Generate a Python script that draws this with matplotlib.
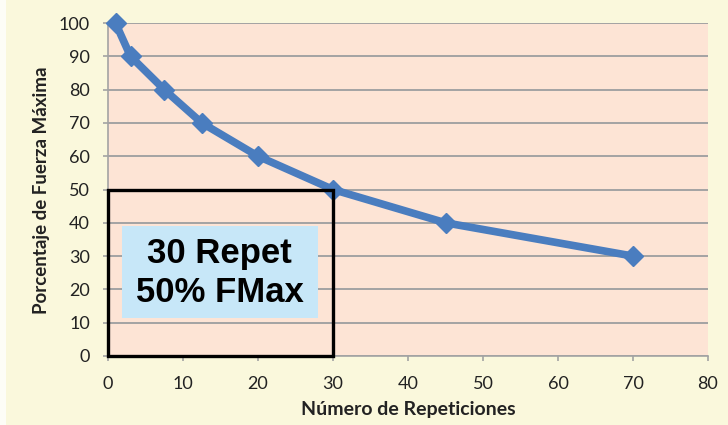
import matplotlib
matplotlib.use("Agg")
import matplotlib.pyplot as plt
from matplotlib.patches import Rectangle

repeticiones = [1, 3, 7.5, 12.5, 20, 30, 45, 70]
porcentaje = [100, 90, 80, 70, 60, 50, 40, 30]
x_ticks = [0, 10, 20, 30, 40, 50, 60, 70, 80]
y_ticks = [0, 10, 20, 30, 40, 50, 60, 70, 80, 90, 100]
box_text = "30 Repet\n50% FMax"

W, H = 728, 425
fig = plt.figure(figsize=(W / 100, H / 100), dpi=100)
fig.patch.set_facecolor("#FAF8DC")
fig.patches.append(Rectangle((0, 0), 6 / W, 1, transform=fig.transFigure,
                             facecolor="#FDFDF6", edgecolor="none", zorder=0))

ax = fig.add_axes([108 / W, 1 - 356 / H, 600 / W, 333 / H])
ax.set_facecolor("#FDE4D5")
ax.set_xlim(0, 80)
ax.set_ylim(0, 100)
ax.set_xticks(x_ticks)
ax.set_yticks(y_ticks)
ax.grid(axis="y", color="#A3A3A3", linewidth=1.4)
ax.set_axisbelow(True)
for s in ["top", "right"]:
    ax.spines[s].set_visible(False)
for s in ["left", "bottom"]:
    ax.spines[s].set_color("#A3A3A3")
    ax.spines[s].set_linewidth(1.2)
ax.tick_params(axis="y", length=3.6, color="#A3A3A3", width=1.2, pad=9.5,
               labelsize=13, labelcolor="#222222")
ax.tick_params(axis="x", length=3.6, color="#A3A3A3", width=1.2, pad=11,
               labelsize=13, labelcolor="#222222")
for lab in ax.get_xticklabels() + ax.get_yticklabels():
    lab.set_family("Lato")

ax.plot(repeticiones, porcentaje, color="#4A7DBF", linewidth=5.5,
        marker="D", markersize=10, solid_joinstyle="round", zorder=4,
        clip_on=False)

ax.add_patch(Rectangle((0, 0), 30, 50, fill=False, edgecolor="black",
                       linewidth=2.4, zorder=5, clip_on=False))
ax.add_patch(Rectangle((1.8, 11.4), 26.2, 27.6, facecolor="#C7E7F8",
                       edgecolor="none", zorder=3))
ax.text(14.9, 25.0, box_text, ha="center", va="center", fontsize=25,
        fontweight="bold", family="Liberation Sans", linespacing=1.22,
        color="black", zorder=6)

fig.text(408 / W, 1 - 410 / H, "Número de Repeticiones", ha="center",
         va="center", fontsize=14, fontweight="bold", family="Lato",
         color="#222222")
fig.text(42 / W, 1 - 190 / H, "Porcentaje de Fuerza Máxima", ha="center",
         va="center", rotation=90, fontsize=13.5, fontweight="bold",
         family="Lato", color="#222222")

fig.savefig("out.png", dpi=100, facecolor=fig.get_facecolor())
